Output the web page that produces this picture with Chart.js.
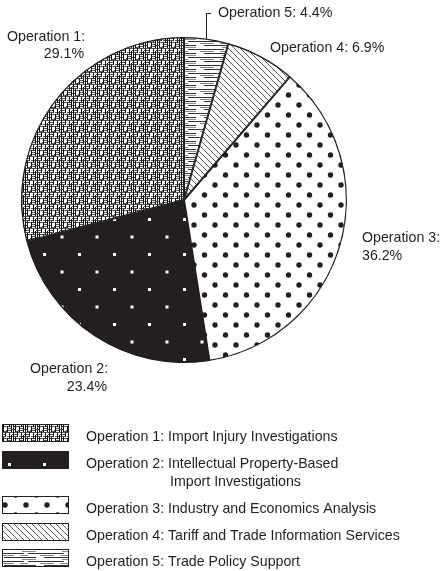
<!DOCTYPE html>
<html>
<head>
<meta charset="utf-8">
<title>Share of operations</title>
<script src="https://cdn.jsdelivr.net/npm/chart.js@4.4.1/dist/chart.umd.min.js"></script>
<style>
  html, body { margin: 0; padding: 0; background: #fff; }
  #wrap { width: 441px; height: 571px; }
</style>
</head>
<body>
<div id="wrap"><canvas id="pieChart" width="441" height="571"></canvas></div>
<script>
// ============================================
// Data (slices run clockwise from 12 o'clock)
// ============================================
const sliceKeys = ['op5', 'op4', 'op3', 'op2', 'op1'];
const sliceNames = ['Operation 5', 'Operation 4', 'Operation 3', 'Operation 2', 'Operation 1'];
const sliceShares = [4.4, 6.9, 36.2, 23.4, 29.1];

const legendKeys = ['op1', 'op2', 'op3', 'op4', 'op5'];
const legendLines = [
  ['Operation 1: Import Injury Investigations'],
  ['Operation 2: Intellectual Property-Based', 'Import Investigations'],
  ['Operation 3: Industry and Economics Analysis'],
  ['Operation 4: Tariff and Trade Information Services'],
  ['Operation 5: Trade Policy Support']
];

const INK = '#231f20';
const FONT = '14.2px "Liberation Sans", Arial, sans-serif';

// ============================================
// Fill patterns
// ============================================
function makeTile(w, h, paint) {
  const c = document.createElement('canvas');
  c.width = w;
  c.height = h;
  const g = c.getContext('2d');
  paint(g);
  return document.createElement('canvas').getContext('2d').createPattern(c, 'repeat');
}

const patterns = {
  // dense crosshatch of short strokes
  op1: makeTile(12, 12, g => {
    g.fillStyle = '#fff';
    g.fillRect(0, 0, 12, 12);
    g.fillStyle = '#555';
    [[0, 0, 12], [0, 2, 6], [0, 4, 5], [7, 4, 5], [2, 6, 10], [8, 8, 4], [0, 9, 4], [6, 10, 6], [3, 11, 5]].forEach(([x, y, w]) => g.fillRect(x, y, w, 1));
    g.fillStyle = '#111';
    [[1, 0, 12], [3, 5, 7], [5, 0, 5], [7, 6, 6], [9, 1, 6], [11, 3, 9]].forEach(([x, y, h]) => g.fillRect(x, y, 1, h));
  }),
  // black with small white squares
  op2: makeTile(35, 35, g => {
    g.fillStyle = INK;
    g.fillRect(0, 0, 35, 35);
    g.fillStyle = '#fff';
    g.fillRect(8, 8, 3, 3);
    g.fillRect(25.5, 25.5, 3, 3);
  }),
  // white with black dots
  op3: makeTile(21, 20, g => {
    g.fillStyle = '#fff';
    g.fillRect(0, 0, 21, 20);
    g.fillStyle = INK;
    [[5, 5], [15.5, 15]].forEach(([x, y]) => {
      g.beginPath();
      g.arc(x, y, 2.7, 0, Math.PI * 2);
      g.fill();
    });
  }),
  // diagonal hatch
  op4: makeTile(6, 6, g => {
    g.fillStyle = '#fff';
    g.fillRect(0, 0, 6, 6);
    g.strokeStyle = '#333';
    g.lineWidth = 0.8;
    g.beginPath();
    g.moveTo(-1, -1); g.lineTo(7, 7);
    g.moveTo(-1, 5); g.lineTo(1, 7);
    g.moveTo(5, -1); g.lineTo(7, 1);
    g.stroke();
  }),
  // broken horizontal lines
  op5: makeTile(40, 8, g => {
    g.fillStyle = '#fff';
    g.fillRect(0, 0, 40, 8);
    g.fillStyle = '#333';
    g.fillRect(0, 1, 24, 1);
    g.fillRect(28, 1, 12, 1);
    g.fillRect(4, 5, 32, 1);
    g.fillStyle = '#888';
    g.fillRect(0, 3, 14, 1);
    g.fillRect(20, 3, 8, 1);
    g.fillRect(22, 7, 14, 1);
  })
};

// ============================================
// Slice labels (text placement, in pixels)
// ============================================
const labelSpots = {
  op5: [{ x: 218, y: 13, align: 'left', text: 'Operation 5: 4.4%' }],
  op4: [{ x: 270, y: 48, align: 'left', text: 'Operation 4: 6.9%' }],
  op3: [{ x: 362, y: 238, align: 'left', text: 'Operation 3:' }, { x: 362, y: 256, align: 'left', text: '36.2%' }],
  op2: [{ x: 30, y: 369, align: 'left', text: 'Operation 2:' }, { x: 107, y: 387, align: 'right', text: '23.4%' }],
  op1: [{ x: 7, y: 37, align: 'left', text: 'Operation 1:' }, { x: 84, y: 54, align: 'right', text: '29.1%' }]
};

const sliceLabelPlugin = {
  id: 'sliceLabels',
  afterDatasetsDraw(chart) {
    const ctx = chart.ctx;
    const arcs = chart.getDatasetMeta(0).data;
    ctx.save();
    ctx.font = FONT;
    ctx.fillStyle = INK;
    ctx.textBaseline = 'middle';
    arcs.forEach((arc, i) => {
      const key = sliceKeys[i];
      labelSpots[key].forEach(s => {
        ctx.textAlign = s.align;
        ctx.fillText(s.text, s.x, s.y);
      });
    });
    // leader line for the thin top slice
    const a = arcs[0];
    const mid = (a.startAngle + a.endAngle) / 2;
    const px = a.x + Math.cos(mid) * a.outerRadius;
    const py = a.y + Math.sin(mid) * a.outerRadius;
    const ty = labelSpots.op5[0].y;
    ctx.strokeStyle = INK;
    ctx.lineWidth = 1;
    ctx.beginPath();
    ctx.moveTo(Math.round(px) + 0.5, py);
    ctx.lineTo(Math.round(px) + 0.5, ty + 0.5);
    ctx.lineTo(Math.round(px) + 5, ty + 0.5);
    ctx.stroke();
    ctx.restore();
  }
};

// ============================================
// Legend below the pie
// ============================================
const legendRows = [424, 451, 496, 523, 549];

const legendPlugin = {
  id: 'patternLegend',
  afterDraw(chart) {
    const ctx = chart.ctx;
    ctx.save();
    ctx.font = FONT;
    ctx.fillStyle = INK;
    ctx.textBaseline = 'middle';
    ctx.textAlign = 'left';
    legendKeys.forEach((key, i) => {
      const top = legendRows[i];
      ctx.fillStyle = patterns[key];
      ctx.fillRect(2, top, 67, 18);
      ctx.strokeStyle = INK;
      ctx.lineWidth = 1;
      ctx.strokeRect(2.5, top + 0.5, 66, 17);
      ctx.fillStyle = INK;
      legendLines[i].forEach((line, j) => {
        ctx.fillText(line, j === 0 ? 86 : 170, top + 13 + j * 18);
      });
    });
    ctx.restore();
  }
};

// ============================================
// Chart
// ============================================
new Chart(document.getElementById('pieChart'), {
  type: 'pie',
  data: {
    labels: sliceNames,
    datasets: [{
      data: sliceShares,
      backgroundColor: sliceKeys.map(k => patterns[k]),
      borderColor: INK,
      borderWidth: 1,
      borderAlign: 'inner'
    }]
  },
  options: {
    responsive: false,
    animation: false,
    layout: {
      padding: { left: 21, right: 94, top: 37, bottom: 208 }
    },
    plugins: {
      legend: { display: false },
      tooltip: { enabled: false }
    }
  },
  plugins: [sliceLabelPlugin, legendPlugin]
});
</script>
</body>
</html>
